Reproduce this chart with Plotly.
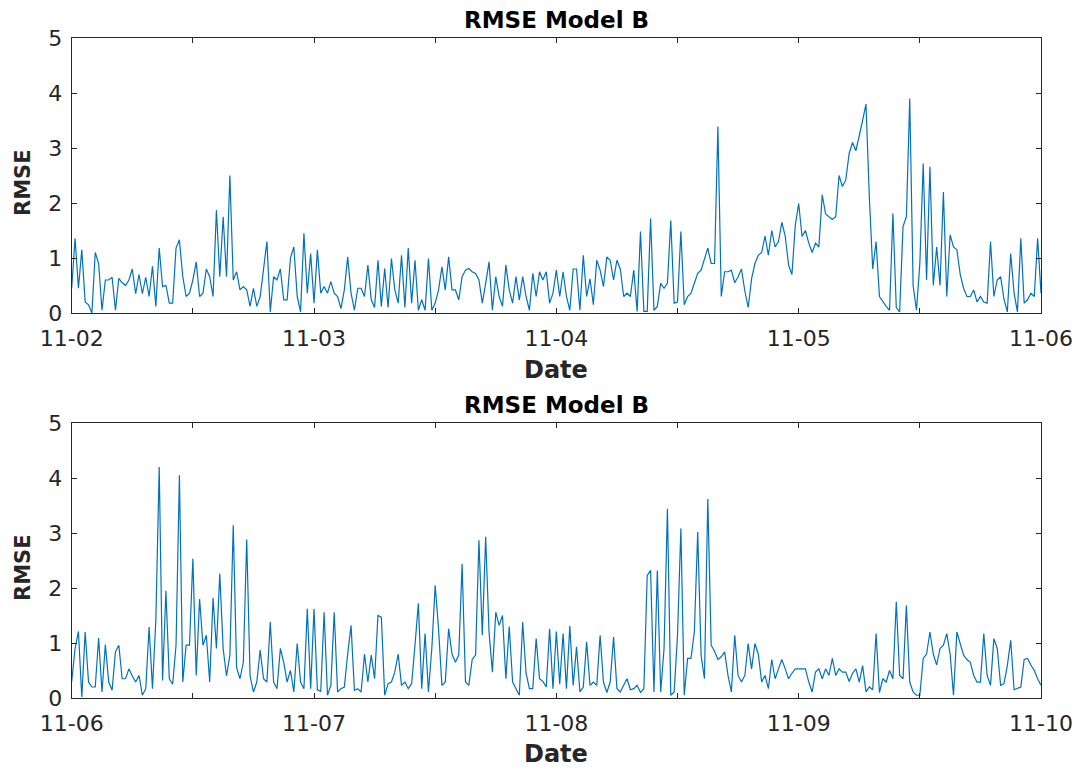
import pandas as pd
import plotly.graph_objects as go

# ---------------- data (RMSE, 20-minute samples) ----------------
top_day1 = [0.45, 1.36, 0.45, 1.15, 0.2, 0.15, 0.0, 1.1, 0.9, 0.05, 0.6, 0.6,
            0.65, 0.05, 0.63, 0.55, 0.5, 0.6, 0.8, 0.35, 0.7, 0.35, 0.65, 0.3,
            0.85, 0.12, 1.18, 0.48, 0.5, 0.18, 0.18, 1.18, 1.33, 0.66, 0.3, 0.36,
            0.6, 0.93, 0.3, 0.36, 0.8, 0.66, 0.3, 1.87, 0.66, 1.75, 0.66, 2.5,
            0.6, 0.75, 0.42, 0.48, 0.42, 0.12, 0.45, 0.12, 0.3, 0.8, 1.3, 0.02,
            0.66, 0.6, 0.8, 0.24, 0.24, 1.0, 1.2, 0.3, 0.02, 1.45, 0.36, 1.08]
top_day2 = [0.18, 1.15, 0.36, 0.48, 0.36, 0.57, 0.36, 0.3, 0.08, 0.42, 1.02, 0.36,
            0.05, 0.45, 0.45, 0.3, 0.87, 0.24, 0.1, 0.96, 0.12, 0.81, 0.1, 0.99,
            0.42, 0.18, 1.05, 0.1, 1.18, 0.18, 0.96, 0.05, 0.24, 0.05, 0.99, 0.05,
            0.18, 0.42, 0.84, 0.42, 1.02, 0.42, 0.42, 0.24, 0.66, 0.78, 0.81, 0.75,
            0.72, 0.6, 0.18, 0.54, 0.93, 0.05, 0.66, 0.3, 0.12, 0.87, 0.42, 0.18,
            0.66, 0.24, 0.66, 0.3, 0.05, 0.72, 0.3, 0.75, 0.6, 0.75, 0.18, 0.36]
top_day3 = [0.78, 0.3, 0.75, 0.3, 0.05, 0.8, 0.8, 0.05, 1.05, 0.3, 0.62, 0.15,
            0.96, 0.78, 0.48, 1.02, 0.96, 0.6, 0.96, 0.8, 0.3, 0.36, 0.3, 0.78,
            0.03, 1.48, 0.03, 0.03, 1.72, 0.05, 0.12, 0.54, 0.45, 0.54, 1.68, 0.18,
            0.2, 1.48, 0.15, 0.3, 0.36, 0.54, 0.72, 0.78, 0.96, 1.18, 0.9, 0.9,
            3.39, 0.3, 0.75, 0.75, 0.78, 0.55, 0.66, 0.8, 0.4, 0.1, 0.62, 0.9,
            1.05, 1.1, 1.4, 1.05, 1.5, 1.2, 1.3, 1.65, 1.4, 0.87, 0.7, 1.6]
top_day4 = [1.99, 1.39, 1.5, 1.27, 1.1, 1.27, 1.2, 2.15, 1.8, 1.75, 1.7, 1.75,
            2.5, 2.3, 2.42, 2.9, 3.1, 2.95, 3.2, 3.5, 3.8, 2.1, 0.8, 1.3,
            0.3, 0.2, 0.12, 0.05, 1.81, 0.1, 0.02, 1.57, 1.75, 3.9, 0.5, 0.05,
            0.9, 2.72, 0.6, 2.66, 0.5, 1.2, 0.5, 2.2, 0.3, 1.42, 1.2, 1.15,
            0.7, 0.45, 0.3, 0.3, 0.42, 0.2, 0.3, 0.2, 0.18, 1.3, 0.3, 0.6,
            0.66, 0.25, 0.02, 1.08, 0.36, 0.02, 1.36, 0.18, 0.24, 0.36, 0.3, 1.36,
            0.36]

bot_day1 = [0.3, 0.9, 1.21, 0.02, 1.2, 0.29, 0.2, 0.2, 1.09, 0.11, 0.97, 0.29,
            0.14, 0.84, 0.96, 0.35, 0.35, 0.53, 0.4, 0.29, 0.41, 0.05, 0.17, 1.29,
            0.17, 1.42, 4.2, 0.32, 1.95, 0.35, 0.25, 0.96, 4.05, 0.29, 0.96, 0.96,
            2.53, 0.41, 1.8, 0.96, 1.14, 0.29, 1.82, 0.9, 2.26, 0.9, 0.4, 0.78,
            3.14, 0.55, 0.35, 0.65, 2.88, 0.4, 0.11, 0.29, 0.87, 0.35, 0.29, 1.38,
            0.29, 0.17, 0.9, 0.65, 0.29, 0.5, 0.11, 0.99, 0.29, 0.17, 1.62, 0.17]
bot_day2 = [1.62, 0.15, 0.12, 1.56, 0.05, 0.23, 1.56, 0.11, 0.17, 0.2, 0.8, 1.32,
            0.14, 0.17, 0.11, 0.8, 0.29, 0.78, 0.35, 1.5, 1.47, 0.05, 0.26, 0.29,
            0.47, 0.8, 0.23, 0.29, 0.17, 0.26, 0.96, 1.72, 0.17, 1.17, 0.11, 0.9,
            2.05, 1.26, 0.23, 0.29, 1.26, 0.8, 0.65, 0.78, 2.44, 0.29, 0.23, 0.7,
            0.78, 2.87, 1.14, 2.93, 1.2, 0.47, 1.56, 1.32, 1.5, 0.35, 1.3, 0.29,
            0.17, 0.05, 1.38, 0.45, 0.17, 0.17, 1.08, 0.35, 0.3, 0.2, 1.26, 0.17]
bot_day3 = [1.21, 0.25, 1.17, 0.17, 1.31, 0.23, 0.93, 0.11, 0.2, 1.02, 0.23, 0.29,
            0.23, 1.14, 0.29, 0.1, 0.29, 1.11, 0.17, 0.11, 0.23, 0.35, 0.15, 0.17,
            0.23, 0.1, 0.17, 2.23, 2.32, 0.11, 2.32, 0.11, 0.9, 3.44, 0.05, 0.11,
            1.14, 3.08, 0.05, 0.72, 0.72, 1.2, 3.02, 0.78, 0.35, 3.62, 0.96, 0.85,
            0.7, 0.75, 0.84, 0.41, 0.11, 1.14, 0.41, 0.29, 0.41, 0.99, 0.53, 0.99,
            0.8, 0.29, 0.41, 0.17, 0.7, 0.35, 0.53, 0.7, 0.53, 0.35, 0.45, 0.53]
bot_day4 = [0.53, 0.53, 0.53, 0.29, 0.11, 0.47, 0.53, 0.35, 0.53, 0.41, 0.72, 0.41,
            0.53, 0.47, 0.47, 0.3, 0.45, 0.53, 0.29, 0.59, 0.11, 0.2, 0.15, 1.17,
            0.1, 0.35, 0.29, 0.5, 0.35, 1.75, 0.41, 0.35, 1.68, 0.29, 0.11, 0.05,
            0.05, 0.72, 0.8, 1.2, 0.8, 0.6, 0.9, 0.96, 1.17, 0.8, 0.05, 1.2,
            1.0, 0.78, 0.7, 0.65, 0.41, 0.29, 0.29, 1.17, 0.41, 0.23, 1.08, 0.9,
            0.23, 0.26, 0.59, 1.05, 0.15, 0.17, 0.2, 0.7, 0.72, 0.6, 0.5, 0.35,
            0.23]

top_start = "2023-11-02"
bot_start = "2023-11-06"
top_days = ["2023-11-02", "2023-11-03", "2023-11-04", "2023-11-05", "2023-11-06"]
bot_days = ["2023-11-06", "2023-11-07", "2023-11-08", "2023-11-09", "2023-11-10"]
top_labels = ["11-02", "11-03", "11-04", "11-05", "11-06"]
bot_labels = ["11-06", "11-07", "11-08", "11-09", "11-10"]
title_text = "RMSE Model B"

# ---------------- build ----------------
top_vals = top_day1 + top_day2 + top_day3 + top_day4
bot_vals = bot_day1 + bot_day2 + bot_day3 + bot_day4
top_t = pd.date_range(top_start, periods=len(top_vals), freq="20min")
bot_t = pd.date_range(bot_start, periods=len(bot_vals), freq="20min")

LINE = "#0072BD"
AX = "#262626"
FONT = "DejaVu Sans, Liberation Sans, Arial, sans-serif"

fig = go.Figure()
fig.add_trace(go.Scatter(x=top_t, y=top_vals, mode="lines",
                         line=dict(color=LINE, width=1.2), xaxis="x", yaxis="y",
                         showlegend=False, hoverinfo="skip"))
fig.add_trace(go.Scatter(x=bot_t, y=bot_vals, mode="lines",
                         line=dict(color=LINE, width=1.2), xaxis="x2", yaxis="y2",
                         showlegend=False, hoverinfo="skip"))


def xticks(days, labels):
    vals, texts = [], []
    for i, d in enumerate(days):
        ts = pd.Timestamp(d)
        vals.append(ts)
        texts.append(labels[i])
        if i < len(days) - 1:
            vals.append(ts + pd.Timedelta(hours=12))
            texts.append("")
    return vals, texts


tv1, tt1 = xticks(top_days, top_labels)
tv2, tt2 = xticks(bot_days, bot_labels)

W, H = 1082, 768
xdom = [71.7 / W, 1041 / W]
ydom_top = [1 - 313 / H, 1 - 38 / H]
ydom_bot = [1 - 698 / H, 1 - 423 / H]

common_x = dict(showline=True, linecolor=AX, linewidth=1, mirror="ticks",
                ticks="inside", ticklen=5, tickcolor=AX, showgrid=False,
                zeroline=False, automargin=False,
                tickfont=dict(size=22, color=AX, family=FONT),
                ticklabelstandoff=6)
common_y = dict(showline=True, linecolor=AX, linewidth=1, mirror="ticks",
                ticks="inside", ticklen=5, tickcolor=AX, showgrid=False,
                zeroline=False, automargin=False, range=[0, 5],
                tickvals=[0, 1, 2, 3, 4, 5],
                tickfont=dict(size=22, color=AX, family=FONT),
                ticklabelstandoff=4)

fig.update_layout(
    width=W, height=H,
    margin=dict(l=0, r=0, t=0, b=0),
    paper_bgcolor="white", plot_bgcolor="white",
    font=dict(family=FONT, color=AX),
    xaxis=dict(domain=xdom, anchor="y",
               range=[pd.Timestamp(top_days[0]), pd.Timestamp(top_days[-1])],
               tickvals=tv1, ticktext=tt1, **common_x),
    yaxis=dict(domain=ydom_top, anchor="x", **common_y),
    xaxis2=dict(domain=xdom, anchor="y2",
                range=[pd.Timestamp(bot_days[0]), pd.Timestamp(bot_days[-1])],
                tickvals=tv2, ticktext=tt2, **common_x),
    yaxis2=dict(domain=ydom_bot, anchor="x2", **common_y),
)

xc = (xdom[0] + xdom[1]) / 2
ann = []
for ytitle, ylab, ydate in [(20, 183, 370), (405, 568, 754)]:
    ann.append(dict(text="<b>" + title_text + "</b>", x=xc, y=1 - ytitle / H,
                    xref="paper", yref="paper", showarrow=False,
                    font=dict(size=23, color="#000000", family=FONT),
                    xanchor="center", yanchor="middle"))
    ann.append(dict(text="<b>RMSE</b>", x=23 / W, y=1 - ylab / H,
                    xref="paper", yref="paper", showarrow=False, textangle=-90,
                    font=dict(size=21, color=AX, family=FONT),
                    xanchor="center", yanchor="middle"))
    ann.append(dict(text="<b>Date</b>", x=xc, y=1 - ydate / H,
                    xref="paper", yref="paper", showarrow=False,
                    font=dict(size=24, color=AX, family=FONT),
                    xanchor="center", yanchor="middle"))
fig.update_layout(annotations=ann)

fig.write_html("out.html",
               config={"displayModeBar": False},
               post_script="document.body.style.margin='0';"
                           "document.body.style.overflow='hidden';")
